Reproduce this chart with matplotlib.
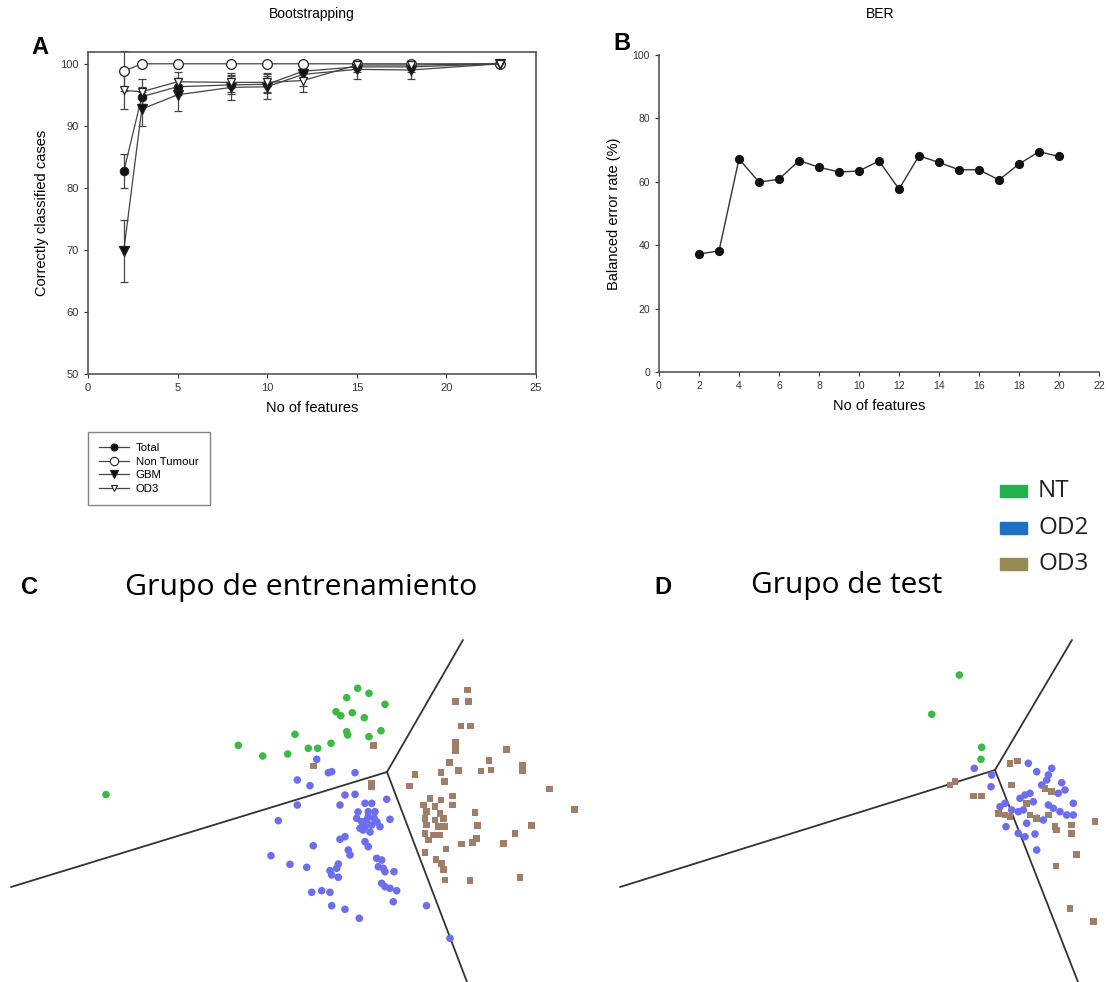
import matplotlib
matplotlib.use("Agg")
import matplotlib.pyplot as plt
from matplotlib.lines import Line2D
from matplotlib.patches import Rectangle

W, H = 1109, 982
DPI = 100

# ---------------- data ----------------
# A: bootstrapping accuracy vs number of features
boot_features = [2, 3, 5, 8, 10, 12, 15, 18, 23]
total_acc = [82.7, 94.7, 96.3, 96.6, 96.7, 98.8, 99.5, 99.5, 100]
total_err = [2.8, 1.6, 1.4, 1.4, 1.4, 1.0, 0.8, 0.8, 0.0]
nontumour_acc = [98.8, 100, 100, 100, 100, 100, 100, 100, 100]
nontumour_err = [3.2, 0, 0, 0, 0, 0, 0, 0, 0]
gbm_acc = [69.9, 92.7, 95.0, 96.2, 96.3, 98.3, 99.1, 99.0, 100]
gbm_err = [5.0, 2.8, 2.6, 2.0, 2.0, 1.8, 1.5, 1.5, 0.0]
od3_acc = [95.7, 95.5, 97.1, 97.0, 97.0, 97.3, 99.8, 99.8, 100]
od3_err = [3.0, 2.0, 1.5, 1.5, 1.5, 1.8, 0.4, 0.4, 0.0]

# B: balanced error rate vs number of features
ber_features = list(range(2, 21))
ber_values = [37.2, 38.2, 67.2, 59.9, 60.8, 66.7, 64.6, 63.1, 63.4, 66.6,
              57.7, 68.2, 66.1, 63.8, 63.8, 60.6, 65.6, 69.5, 68.0]

# C: training-set projection (screen-space coordinates)
train_nt_x = [357.7, 369, 346.7, 385, 336, 340.7, 352.3, 364.3, 346.7, 347.7,
              369, 381, 295, 238.3, 331, 308.3, 317.7, 287.7, 262.7, 106]
train_nt_y = [688.3, 693.3, 697.7, 704.3, 711.7, 715.7, 712.7, 717.7, 731.7, 735,
              736.7, 730.7, 734.3, 745.3, 743.3, 748.3, 748.3, 754, 756, 794.5]
train_od2_x = [316.7, 328.3, 331.7, 355, 297.3, 310, 345, 355, 340, 386.7,
               297.3, 365, 371.7, 375, 368.3, 356.7, 361.7, 366.7, 365, 371.7,
               380, 360, 368.3, 374, 377, 363, 370, 358, 390, 278.3,
               340, 345, 313.3, 365, 368.3, 348.3, 350, 271, 290, 306.7,
               338.3, 336.7, 330, 331.7, 338.3, 376.7, 381.7, 378.3, 383.3, 385,
               394, 381.7, 385, 390, 396.7, 311.7, 321.7, 330, 393.3, 331.7,
               345, 359.3, 426.5, 450]
train_od2_y = [759.3, 772.7, 771.7, 772.7, 780, 785.7, 795, 794.3, 805, 799.3,
               805, 803.3, 803.3, 811.7, 811.7, 818.3, 821.7, 820, 826.7, 825,
               826.7, 828.3, 816.7, 818, 822, 830, 832, 812, 819.3, 820.7,
               839.3, 836.7, 845.7, 841.7, 846.7, 850, 855, 855.7, 864.3, 867.3,
               864, 868.3, 870.7, 875, 877.3, 858.3, 860, 866.7, 868.3, 871.7,
               871.7, 883.3, 886.7, 888.3, 890.7, 892.3, 890.7, 892.3, 901.7, 905.7,
               909.3, 918.3, 905.7, 938.3]
train_od3_x = [467.3, 455.7, 468.3, 461, 470.7, 455.7, 455.7, 455.7, 506.7, 489,
               522.3, 522.3, 449.3, 458.3, 481, 491, 441, 415, 444.3, 409.3,
               549.3, 452.7, 452.7, 574.3, 475, 430, 441, 423.3, 435, 426.7,
               440, 425, 435, 443.3, 426.7, 438.3, 445, 425, 433.3, 440,
               428.3, 477.7, 531.7, 515, 476.7, 472.7, 461.7, 503.3, 446, 425,
               436, 441.7, 443.3, 445, 470, 520, 373.3, 313.3, 371.7, 371.7]
train_od3_y = [690, 701.7, 701.7, 726, 726, 742.7, 747.3, 750.7, 749.3, 760.7,
               765, 770.7, 762.7, 770.7, 771, 770, 772.7, 774.3, 781.7, 786,
               789, 796, 805, 809.3, 812.7, 798.3, 800, 805, 806.7, 811.7,
               813.3, 818.3, 820, 818.3, 825, 826.7, 826.7, 833.3, 835, 835,
               840, 825.7, 825.7, 833.3, 838.3, 842.7, 844, 843.3, 849, 852.7,
               859.3, 863.3, 869.3, 880, 880.7, 877.3, 745.3, 766, 783.3, 786.7]

# D: test-set projection (screen-space coordinates)
test_nt_x = [959.3, 931.7, 981.7, 981]
test_nt_y = [675, 714.3, 747.3, 759.3]
test_od2_x = [974.3, 991.7, 991, 1028.3, 1036.7, 1051.7, 1048.3, 1046.7, 1041.7, 1061.7,
              1065, 1058.3, 1030, 1033.3, 1025, 1020, 1073.3, 1000, 1005, 1011.7,
              1018.3, 1023.3, 1048.3, 1053.3, 1060, 1066.7, 1073.3, 1043.3, 1036.7, 1026.7,
              1006, 1018.3, 1025, 1035, 1036.7]
test_od2_y = [768.3, 775, 786.7, 763.3, 771.7, 768.3, 775, 780, 785, 782.7,
              790, 793.3, 793.3, 801.7, 795, 798.3, 803.3, 806.7, 803.3, 810,
              811.7, 810, 805, 808.3, 811.7, 815, 815, 820, 818.3, 823.3,
              826.7, 833.3, 836.7, 834, 850]
test_od3_x = [1010, 1017.3, 1011.7, 950, 955, 973.3, 981.7, 998.3, 1005, 1010,
              1026.7, 1045, 1051.7, 1030, 1036.7, 1048.3, 1055, 1056.7, 1071.7, 1071.7,
              1095, 1076.7, 1056, 1070, 1093.3]
test_od3_y = [763.3, 761, 785, 785, 781.7, 796, 796, 813.3, 815, 816.7,
              803.3, 788.3, 791.7, 815, 818.3, 815, 826.7, 830, 825, 833.3,
              821.7, 854.3, 866, 908.3, 921.7]

# decision boundaries: junction, left, top, bottom ends
train_bound_x = [387, 11, 463, 467]
train_bound_y = [772, 887, 640, 982]
test_bound_x = [995, 620, 1072, 1078]
test_bound_y = [770, 887, 640, 982]

class_names = ["NT", "OD2", "OD3"]
class_key_colors = ["#21b24e", "#1f70c4", "#958a56"]
scatter_colors = ["#3dba45", "#6d6df0", "#a07f6a"]

# ---------------- figure ----------------
plt.rcParams["font.family"] = ["Liberation Sans", "DejaVu Sans"]
fig = plt.figure(figsize=(W / DPI, H / DPI), dpi=DPI)


def fx(x):
    return x / W


def fy(y):
    return 1 - y / H


def axes_px(x0, y0, x1, y1):
    return fig.add_axes([fx(x0), fy(y1), (x1 - x0) / W, (y1 - y0) / H])


edge = "#555555"

# ---- A ----
axA = axes_px(88, 52, 536, 374)
axA.set_xlim(0, 25)
axA.set_ylim(50, 101.9)
series = [
    ("Total", total_acc, total_err, "o", "#111111", 6.0),
    ("Non Tumour", nontumour_acc, nontumour_err, "o", "white", 7.0),
    ("GBM", gbm_acc, gbm_err, "v", "#111111", 6.5),
    ("OD3", od3_acc, od3_err, "v", "white", 5.5),
]
handles = []
for name, vals, errs, mk, fc, ms in series:
    axA.errorbar(boot_features, vals, yerr=errs, color="#444444", lw=0.9,
                 marker=mk, mfc=fc, mec="#222222", ms=ms, mew=0.9,
                 elinewidth=0.9, capsize=3, capthick=0.9, clip_on=False)
    handles.append(Line2D([], [], color="#444444", lw=0.9, marker=mk, mfc=fc,
                          mec="#222222", ms=ms - 1, mew=0.8))
axA.set_xticks([0, 5, 10, 15, 20, 25])
axA.set_yticks([50, 60, 70, 80, 90, 100])
axA.tick_params(labelsize=8, colors="#333333", length=3, width=0.8)
for sp in axA.spines.values():
    sp.set_color(edge)
    sp.set_linewidth(1.2)
axA.set_xlabel("No of features", fontsize=10.5, labelpad=6)
axA.set_ylabel("Correctly classified cases", fontsize=10.5, labelpad=8)
fig.text(fx(312), fy(14), "Bootstrapping", fontsize=10, ha="center", va="center")
fig.text(fx(40), fy(47), "A", fontsize=17, fontweight="bold", ha="center", va="center")
fig.legend(handles, [s[0] for s in series], loc="upper left",
           bbox_to_anchor=(fx(88), fy(432)), fontsize=8.2, frameon=True,
           fancybox=False, edgecolor="#666666", handlelength=2.6,
           labelspacing=0.3, borderpad=1.0, handletextpad=0.6,
           borderaxespad=0)

# ---- B ----
axB = axes_px(659, 55, 1099, 372)
axB.plot(ber_features, ber_values, color="#333333", lw=1.0, marker="o",
         mfc="#111111", mec="#111111", ms=5.6)
axB.set_xlim(0, 22)
axB.set_ylim(0, 100)
axB.set_xticks(range(0, 23, 2))
axB.set_yticks(range(0, 101, 20))
axB.spines["top"].set_visible(False)
axB.spines["right"].set_visible(False)
for sp in ("left", "bottom"):
    axB.spines[sp].set_color(edge)
    axB.spines[sp].set_linewidth(1.2)
axB.tick_params(labelsize=7.5, colors="#333333", length=3, width=0.8)
axB.set_xlabel("No of features", fontsize=10.5, labelpad=6)
axB.set_ylabel("Balanced error rate (%)", fontsize=10.5, labelpad=8)
fig.text(fx(880), fy(14), "BER", fontsize=10, ha="center", va="center")
fig.text(fx(622), fy(44), "B", fontsize=17, fontweight="bold", ha="center", va="center")

# ---- C & D ----
axS = axes_px(0, 600, W, H)
axS.set_xlim(0, W)
axS.set_ylim(H, 600)
axS.axis("off")

for bx, by in ((train_bound_x, train_bound_y), (test_bound_x, test_bound_y)):
    for k in (1, 2, 3):
        axS.plot([bx[0], bx[k]], [by[0], by[k]], color="#333333", lw=1.3,
                 solid_capstyle="round")

groups = [
    (train_nt_x, train_nt_y, "o", 0),
    (train_od2_x, train_od2_y, "o", 1),
    (train_od3_x, train_od3_y, "s", 2),
    (test_nt_x, test_nt_y, "o", 0),
    (test_od2_x, test_od2_y, "o", 1),
    (test_od3_x, test_od3_y, "s", 2),
]
for gx, gy, mk, ci in groups:
    axS.scatter(gx, gy, s=30 if mk == "o" else 25, marker=mk,
                color=scatter_colors[ci], edgecolors="none", zorder=3)

fig.text(fx(30), fy(588), "C", fontsize=17, fontweight="bold", ha="center", va="center")
fig.text(fx(301), fy(587), "Grupo de entrenamiento", fontsize=21.8,
         family=["Open Sans", "DejaVu Sans"], ha="center", va="center")
fig.text(fx(663), fy(588), "D", fontsize=17, fontweight="bold", ha="center", va="center")
fig.text(fx(847), fy(585), "Grupo de test", fontsize=21.5,
         family=["Open Sans", "DejaVu Sans"], ha="center", va="center")

# class key
for i, (name, col) in enumerate(zip(class_names, class_key_colors)):
    yc = 491 + i * 36.5
    fig.patches.append(Rectangle((fx(1000), fy(yc + 6)), 27 / W, 12 / H,
                                 transform=fig.transFigure, color=col))
    fig.text(fx(1038), fy(yc), name, fontsize=17.5,
             family=["Open Sans", "DejaVu Sans"], ha="left", va="center",
             color="#222222")

fig.savefig("out.png", dpi=DPI)
